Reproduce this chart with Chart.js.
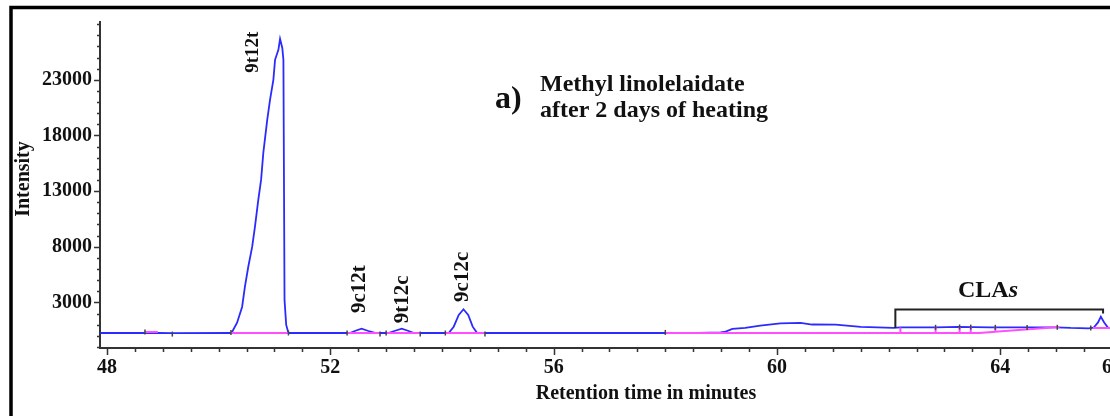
<!DOCTYPE html>
<html>
<head>
<meta charset="utf-8">
<script src="https://cdn.jsdelivr.net/npm/chart.js@4.4.0/dist/chart.umd.min.js"></script>
<style>
html, body { margin: 0; padding: 0; overflow: hidden; background: #fff; }
canvas { display: block; }
</style>
</head>
<body>
<canvas id="myChart" width="1130" height="416"></canvas>
<script>
// detector trace: retention time (min) and intensity
var traceTimes = [47.88, 48.68, 48.91, 49.17, 50.20,
    50.24, 50.33, 50.42, 50.47, 50.53, 50.60, 50.65, 50.71, 50.76, 50.80, 50.87, 50.92, 50.98,
    51.01, 51.07, 51.10, 51.14, 51.16, 51.18, 51.21, 51.25,
    52.35, 52.45, 52.56, 52.67, 52.80,
    53.04, 53.16, 53.28, 53.39, 53.50,
    54.12, 54.21, 54.30, 54.385, 54.47, 54.55, 54.63,
    58.00, 58.59, 58.99, 59.08, 59.20, 59.43, 59.70, 60.06, 60.42, 60.63, 61.05, 61.50, 62.09,
    62.21, 62.84, 63.25, 63.82, 64.36, 64.99, 65.26, 65.58,
    65.67, 65.75, 65.80, 65.86, 65.93, 66.10];
var traceValues = [250, 250, 250, 240, 250,
    340, 1170, 2590, 4390, 6180, 7980, 9780, 12210, 14010, 16440, 19400, 21200, 23000,
    24800, 25700, 26680, 25870, 24790, 3200, 970, 250,
    250, 450, 640, 450, 250,
    250, 450, 640, 450, 250,
    250, 815, 1870, 2380, 1870, 815, 250,
    250, 250, 310, 365, 610, 700, 905, 1120, 1150, 1010, 995, 790, 700,
    745, 760, 790, 760, 745, 760, 700, 670,
    720, 1200, 1714, 1200, 720, 700];

// integration baselines and drop lines (null breaks the line)
var baseTimes = [48.68, 48.91, 48.91, 50.22, 51.25, 51.25, 52.30, 52.89, 52.89,
    53.00, 53.61, 53.61, 54.06, 54.77, 54.77,
    58.00, 62.21, 62.21, 62.21, 62.84, 62.84, 62.84, 63.27, 63.27, 63.27,
    63.47, 63.47, 63.47, 63.62, 63.91, 63.91, 63.91, 65.06, 65.06,
    65.66, 66.10];
var baseValues = [330, 330, null, 250, 250, null, 250, 250, null,
    250, 250, null, 250, 250, null,
    250, 250, 745, 250, 250, 760, 250, 250, 790, 250,
    250, 785, 250, 250, 360, 760, 360, 780, null,
    690, 690];

// peak start / end marks
var markTimes = [48.68, 49.17, 50.22, 51.25, 52.30, 52.89, 53.00, 53.61, 54.06, 54.77, 58.00,
    62.84, 63.27, 63.47, 63.91, 64.48, 65.02, 65.62];
var markValues = [330, 150, 300, 250, 250, 150, 250, 150, 250, 150, 300,
    760, 790, 780, 760, 745, 760, 690];

var peakNames = ['9t12t', '9c12t', '9t12c', '9c12c'];
var claRange = [62.12, 65.84];

var xTickLabels = [48, 52, 56, 60, 64, 66];
var yTickLabels = [3000, 8000, 13000, 18000, 23000];

function pts(xs, ys) {
    return xs.map(function (t, i) { return { x: t, y: ys[i] }; });
}

var serif = '"Liberation Serif", "Times New Roman", serif';

var decor = {
    id: 'decor',
    beforeDraw: function (chart) {
        var ctx = chart.ctx;
        ctx.save();
        ctx.fillStyle = '#fff';
        ctx.fillRect(0, 0, chart.width, chart.height);
        // outer frame
        ctx.strokeStyle = '#000';
        ctx.lineWidth = 3.5;
        ctx.beginPath();
        ctx.moveTo(11, chart.height);
        ctx.lineTo(11, 7.5);
        ctx.lineTo(chart.width, 7.5);
        ctx.stroke();
        ctx.restore();
    },
    afterDraw: function (chart) {
        var ctx = chart.ctx, xs = chart.scales.x, ys = chart.scales.y;
        ctx.save();

        // major / minor tick marks
        ctx.strokeStyle = '#333';
        ctx.lineWidth = 1.5;
        ctx.beginPath();
        for (var t = 48; t <= 66; t += 0.5) {
            var px = Math.round(xs.getPixelForValue(t)) + 0.5;
            var lx = xTickLabels.indexOf(t) >= 0 ? 7 : 4;
            ctx.moveTo(px, xs.top);
            ctx.lineTo(px, xs.top + lx);
        }
        for (var v = -1000; v <= 28000; v += 1000) {
            var py = Math.round(ys.getPixelForValue(v)) + 0.5;
            var ly = yTickLabels.indexOf(v) >= 0 ? 6 : 3;
            ctx.moveTo(ys.right, py);
            ctx.lineTo(ys.right - ly, py);
        }
        ctx.stroke();

        ctx.fillStyle = '#111';

        // axis titles
        ctx.font = 'bold 20px ' + serif;
        ctx.textAlign = 'center';
        ctx.textBaseline = 'middle';
        ctx.fillText('Retention time in minutes', 646, 394);
        ctx.save();
        ctx.translate(24, 179);
        ctx.rotate(-Math.PI / 2);
        ctx.fillText('Intensity', 0, 0);
        ctx.restore();

        // heading
        ctx.textAlign = 'left';
        ctx.textBaseline = 'alphabetic';
        ctx.font = 'bold 32px ' + serif;
        ctx.fillText('a)', 495, 108);
        ctx.font = 'bold 24px ' + serif;
        ctx.fillText('Methyl linolelaidate', 540, 91);
        ctx.fillText('after 2 days of heating', 540, 117);

        // peak names, written upwards from the anchor point
        var labelAt = [[50.62, 23630, 19], [52.52, 2050, 21], [53.29, 1120, 21], [54.36, 3040, 21]];
        peakNames.forEach(function (name, i) {
            var a = labelAt[i];
            ctx.save();
            ctx.translate(xs.getPixelForValue(a[0]), ys.getPixelForValue(a[1]));
            ctx.rotate(-Math.PI / 2);
            ctx.font = 'bold ' + a[2] + 'px ' + serif;
            ctx.textAlign = 'left';
            ctx.textBaseline = 'middle';
            ctx.fillText(name, 0, 0);
            ctx.restore();
        });

        // CLA bracket
        var x0 = xs.getPixelForValue(claRange[0]), x1 = xs.getPixelForValue(claRange[1]);
        var yTop = ys.getPixelForValue(2360);
        ctx.strokeStyle = '#222';
        ctx.lineWidth = 2;
        ctx.beginPath();
        ctx.moveTo(x0, ys.getPixelForValue(700));
        ctx.lineTo(x0, yTop);
        ctx.lineTo(x1, yTop);
        ctx.lineTo(x1, ys.getPixelForValue(2000));
        ctx.stroke();

        ctx.font = 'bold 24px ' + serif;
        ctx.fillText('CLA', 958, 297);
        var w = ctx.measureText('CLA').width;
        ctx.font = 'italic bold 24px ' + serif;
        ctx.fillText('s', 958 + w, 297);

        ctx.restore();
    }
};

var ctx = document.getElementById('myChart').getContext('2d');
var myChart = new Chart(ctx, {
    type: 'line',
    data: {
        datasets: [
            {
                label: 'marks',
                type: 'scatter',
                data: pts(markTimes, markValues),
                pointStyle: 'line',
                rotation: 90,
                radius: 2.5,
                borderColor: '#444',
                borderWidth: 1.5,
                showLine: false
            },
            {
                label: 'baseline',
                data: pts(baseTimes, baseValues),
                borderColor: '#ff4dff',
                borderWidth: 2,
                pointRadius: 0,
                spanGaps: false,
                tension: 0
            },
            {
                label: 'trace',
                data: pts(traceTimes, traceValues),
                borderColor: '#2b2bff',
                borderWidth: 1.8,
                pointRadius: 0,
                tension: 0
            }
        ]
    },
    options: {
        responsive: false,
        animation: false,
        layout: { padding: { top: 22, right: 18, left: 0, bottom: 0 } },
        plugins: {
            legend: { display: false },
            tooltip: { enabled: false }
        },
        scales: {
            x: {
                type: 'linear',
                min: 47.875,
                max: 66.0,
                afterFit: function (s) { s.height = 68; },
                afterBuildTicks: function (s) {
                    s.ticks = xTickLabels.map(function (v) { return { value: v }; });
                },
                grid: { display: false, drawTicks: false },
                border: { display: true, color: '#333', width: 2 },
                ticks: {
                    padding: 8,
                    autoSkip: false,
                    maxRotation: 0,
                    color: '#111',
                    font: { family: serif, size: 20, weight: 'bold' },
                    callback: function (v) { return String(v); }
                }
            },
            y: {
                type: 'linear',
                min: -1100,
                max: 28200,
                afterFit: function (s) { s.width = 100; },
                afterBuildTicks: function (s) {
                    s.ticks = yTickLabels.map(function (v) { return { value: v }; });
                },
                grid: { display: false, drawTicks: false },
                border: { display: true, color: '#333', width: 2 },
                ticks: {
                    padding: 8,
                    color: '#111',
                    font: { family: serif, size: 20, weight: 'bold' },
                    callback: function (v) { return String(v); }
                }
            }
        }
    },
    plugins: [decor]
});
</script>
</body>
</html>
